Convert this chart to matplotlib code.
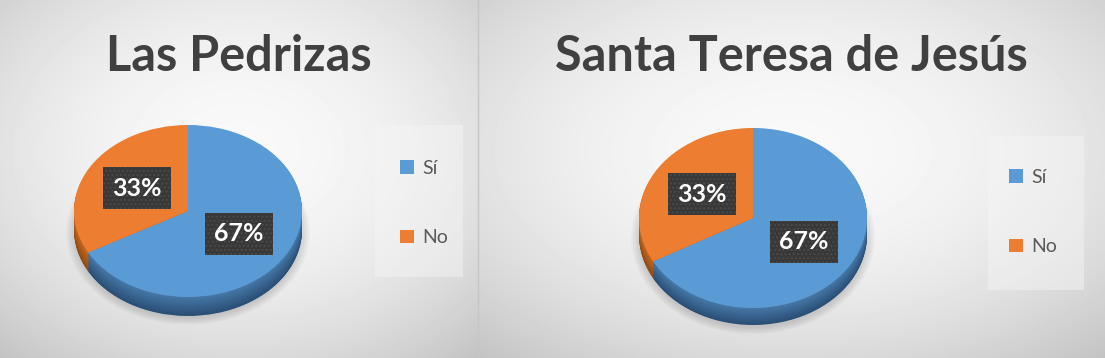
import numpy as np
import matplotlib
matplotlib.use("Agg")
import matplotlib.pyplot as plt
from matplotlib.patches import Rectangle, Ellipse
from matplotlib.colors import to_rgb

W, H = 1105, 358

titles = ["Las Pedrizas", "Santa Teresa de Jesús"]
categories = ["Sí", "No"]
values_pedrizas = [67, 33]
values_teresa = [67, 33]
colors = ["#5B9BD5", "#ED7D31"]
side_top = ["#4677a6", "#c2661f"]
side_bot = ["#2a4e75", "#8f4a16"]

# layout of the two panels, in pixels
panels = [
    dict(x0=0, x1=477, cx=188, cy=211, rx=114, ry=86, depth=19,
         box=(375, 125, 463, 277), leg_x=400, leg_y=203),
    dict(x0=478, x1=1105, cx=753, cy=218, rx=114, ry=90, depth=17,
         box=(988, 136, 1084, 290), leg_x=1009, leg_y=212),
]
series = [values_pedrizas, values_teresa]


def blend(c1, c2, t):
    a, b = np.array(to_rgb(c1)), np.array(to_rgb(c2))
    return tuple(a + (b - a) * t)


fig = plt.figure(figsize=(W / 100, H / 100), dpi=100)
bg = fig.add_axes([0, 0, 1, 1])

# soft radial background per panel
yy, xx = np.mgrid[0:H, 0:W] + 0.5
img = np.ones((H, W))
for p in panels:
    m = (xx >= p["x0"]) & (xx < p["x1"] + 1)
    pcx = (p["x0"] + p["x1"]) / 2
    hw = (p["x1"] - p["x0"]) / 2
    r2 = 0.5 * ((xx - pcx) / hw) ** 2 + 0.5 * ((yy - H * 0.42) / (H / 2)) ** 2
    img[m] = (0.975 - 0.18 * r2)[m]
bg.imshow(img, cmap="gray", vmin=0, vmax=1, extent=(0, W, H, 0),
          aspect="auto", interpolation="bilinear")
bg.axvline(477.5, color="#c6c6c6", lw=1)
bg.set_xlim(0, W)
bg.set_ylim(H, 0)
bg.axis("off")

for p, vals, title in zip(panels, series, titles):
    pcx = (p["x0"] + p["x1"]) / 2
    bg.text(pcx, 71, title, ha="center", va="baseline", fontsize=35,
            fontweight="bold", color="#404040", family="Lato")
    bx0, by0, bx1, by1 = p["box"]
    bg.add_patch(Rectangle((bx0, by0), bx1 - bx0, by1 - by0,
                           facecolor="#f6f6f6", alpha=0.45, edgecolor="none"))

    rx, ry, d = p["rx"], p["ry"], p["depth"]
    pad = 1.15
    left, right = p["cx"] - pad * rx, p["cx"] + pad * rx
    top, bottom = p["cy"] - pad * ry, p["cy"] + pad * ry + d
    ax = fig.add_axes([left / W, 1 - bottom / H, (right - left) / W, (bottom - top) / H])
    dd = d / ry

    # shadow under the disc
    for s in np.linspace(1.0, 1.07, 6):
        ax.add_patch(Ellipse((0, -dd - 0.03), 2 * s, 2 * s, facecolor="black",
                             alpha=0.025, edgecolor="none"))

    # side of the disc: stacked layers
    n = 24
    for i, k in enumerate(np.linspace(dd, 0, n, endpoint=False)):
        t = i / (n - 1)
        cols = [blend(side_bot[j], side_top[j], t) for j in range(2)]
        ax.pie(vals, colors=cols, startangle=90, counterclock=False,
               center=(0, -k), wedgeprops=dict(linewidth=0))

    wedges, _, autotexts = ax.pie(
        vals, colors=colors, startangle=90, counterclock=False,
        autopct="%1.0f%%", pctdistance=0.52, wedgeprops=dict(linewidth=0),
        textprops=dict(color="white", fontsize=18, fontweight="bold", family="Lato"))
    for t in autotexts:
        t.set_bbox(dict(boxstyle="square,pad=0.38", facecolor="#383838",
                        edgecolor="#4a4a4a", linewidth=0, hatch="...."))
    ax.set_xlim(-pad, pad)
    ax.set_ylim(-pad - dd, pad)
    ax.set_aspect("auto")
    ax.axis("off")

    fig.legend(wedges, categories, loc="center left",
               bbox_to_anchor=(p["leg_x"] / W, 1 - p["leg_y"] / H),
               frameon=False, prop=dict(family="Lato", size=14),
               labelcolor="#595959", handlelength=0.7, handleheight=0.7,
               handletextpad=0.45, labelspacing=2.7, borderpad=0, borderaxespad=0)

fig.savefig("out.png", dpi=100)
